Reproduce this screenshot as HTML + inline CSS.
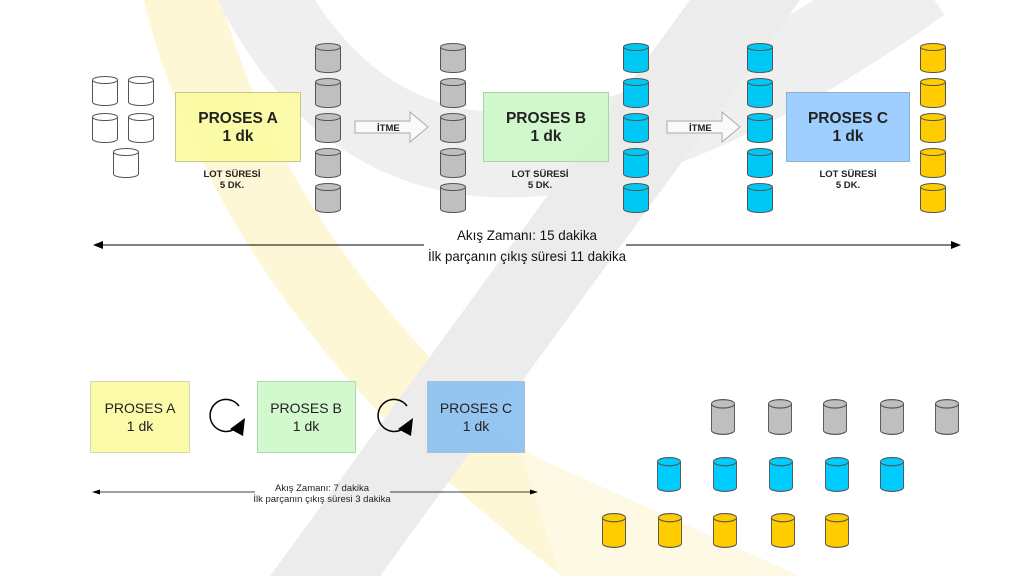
<!DOCTYPE html>
<html><head><meta charset="utf-8"><style>
html,body{margin:0;padding:0;background:#fff;}
svg{display:block;font-family:"Liberation Sans",Arial,sans-serif;}
</style></head><body>
<svg width="1024" height="576" viewBox="0 0 1024 576" xmlns="http://www.w3.org/2000/svg">
<defs>
<symbol id="cyl" viewBox="0 0 26 30" preserveAspectRatio="none" overflow="visible">
<path d="M0.5,4 L0.5,26 A12.5,3.5 0 0 0 25.5,26 L25.5,4" stroke="#555" stroke-width="1"/>
<ellipse cx="13" cy="4" rx="12.5" ry="3.5" stroke="#555" stroke-width="1"/>
</symbol>
</defs>
<!-- background bands -->
<path d="M180,-10 Q260,320 640,586" fill="none" stroke="#fdf7d6" stroke-width="75"/>
<path d="M520,450 L800,576 L560,576 Z" fill="#fdf9e4"/>
<path d="M255,-20 Q430,330 920,-20" fill="none" stroke="#efefef" stroke-width="85"/>
<polygon points="690,0 800,0 380,576 270,576" fill="#ececec"/>

<!-- top row -->
<g fill="#fff">
<use href="#cyl" x="92" y="76" width="26" height="30"/>
<use href="#cyl" x="128" y="76" width="26" height="30"/>
<use href="#cyl" x="92" y="113" width="26" height="30"/>
<use href="#cyl" x="128" y="113" width="26" height="30"/>
<use href="#cyl" x="113" y="148" width="26" height="30"/>
</g>
<g fill="#bfbfbf">
<use href="#cyl" x="315" y="43" width="26" height="30"/><use href="#cyl" x="315" y="78" width="26" height="30"/><use href="#cyl" x="315" y="113" width="26" height="30"/><use href="#cyl" x="315" y="148" width="26" height="30"/><use href="#cyl" x="315" y="183" width="26" height="30"/>
<use href="#cyl" x="440" y="43" width="26" height="30"/><use href="#cyl" x="440" y="78" width="26" height="30"/><use href="#cyl" x="440" y="113" width="26" height="30"/><use href="#cyl" x="440" y="148" width="26" height="30"/><use href="#cyl" x="440" y="183" width="26" height="30"/>
</g>
<g fill="#00c8f4">
<use href="#cyl" x="623" y="43" width="26" height="30"/><use href="#cyl" x="623" y="78" width="26" height="30"/><use href="#cyl" x="623" y="113" width="26" height="30"/><use href="#cyl" x="623" y="148" width="26" height="30"/><use href="#cyl" x="623" y="183" width="26" height="30"/>
<use href="#cyl" x="747" y="43" width="26" height="30"/><use href="#cyl" x="747" y="78" width="26" height="30"/><use href="#cyl" x="747" y="113" width="26" height="30"/><use href="#cyl" x="747" y="148" width="26" height="30"/><use href="#cyl" x="747" y="183" width="26" height="30"/>
</g>
<g fill="#ffcc00">
<use href="#cyl" x="920" y="43" width="26" height="30"/><use href="#cyl" x="920" y="78" width="26" height="30"/><use href="#cyl" x="920" y="113" width="26" height="30"/><use href="#cyl" x="920" y="148" width="26" height="30"/><use href="#cyl" x="920" y="183" width="26" height="30"/>
</g>

<g font-size="15.5" font-weight="bold" text-anchor="middle" fill="#222">
<rect x="175.5" y="92.5" width="125" height="69" fill="#fbfba0" fill-opacity="0.9" stroke="#c8c88a"/>
<text x="238" y="123">PROSES A</text>
<text x="238" y="141">1 dk</text>
<rect x="483.5" y="92.5" width="125" height="69" fill="#ccf8c8" fill-opacity="0.9" stroke="#aad4a8"/>
<text x="546" y="123">PROSES B</text>
<text x="546" y="141">1 dk</text>
<rect x="786.5" y="92.5" width="123" height="69" fill="#99ccff" fill-opacity="0.95" stroke="#8ab0d0"/>
<text x="848" y="123">PROSES C</text>
<text x="848" y="141">1 dk</text>
</g>

<g font-size="9.5" font-weight="bold" text-anchor="middle" fill="#222">
<text x="232" y="177">LOT SÜRESİ</text><text x="232" y="188">5 DK.</text>
<text x="540" y="177">LOT SÜRESİ</text><text x="540" y="188">5 DK.</text>
<text x="848" y="177">LOT SÜRESİ</text><text x="848" y="188">5 DK.</text>
</g>
<!-- ITME arrows -->
<g fill="#fafafa" stroke="#aaa">
<polygon points="355,121 410,121 410,112 428,127 410,142 410,133 355,133"/>
<polygon points="667,121 722,121 722,112 740,127 722,142 722,133 667,133"/>
</g>
<text x="377" y="131" font-size="9.5" font-weight="bold" fill="#222">İTME</text>
<text x="689" y="131" font-size="9.5" font-weight="bold" fill="#222">İTME</text>

<!-- long arrow -->
<line x1="100" y1="245" x2="424" y2="245" stroke="#000"/>
<line x1="626" y1="245" x2="953" y2="245" stroke="#000"/>
<polygon points="93,245 103,241 103,249" fill="#000"/>
<polygon points="961,245 951,241 951,249" fill="#000"/>
<text x="527" y="240" font-size="14" text-anchor="middle" fill="#111" textLength="140" lengthAdjust="spacingAndGlyphs">Akış Zamanı: 15 dakika</text>
<text x="527" y="261" font-size="14" text-anchor="middle" fill="#111" textLength="198" lengthAdjust="spacingAndGlyphs">İlk parçanın çıkış süresi 11 dakika</text>

<!-- bottom -->
<rect x="90.5" y="381.5" width="99" height="71" fill="#fbfba0" fill-opacity="0.9" stroke="#d8d8b0"/>
<text x="140" y="413" font-size="14" text-anchor="middle" fill="#222">PROSES A</text>
<text x="140" y="431" font-size="14" text-anchor="middle" fill="#222">1 dk</text>
<rect x="257.5" y="381.5" width="98" height="71" fill="#ccf8c8" fill-opacity="0.9" stroke="#b0d8b0"/>
<text x="306" y="413" font-size="14" text-anchor="middle" fill="#222">PROSES B</text>
<text x="306" y="431" font-size="14" text-anchor="middle" fill="#222">1 dk</text>
<rect x="427.5" y="381.5" width="97" height="71" fill="#8fc2f0" fill-opacity="0.95" stroke="#a8c0d8"/>
<text x="476" y="413" font-size="14" text-anchor="middle" fill="#222">PROSES C</text>
<text x="476" y="431" font-size="14" text-anchor="middle" fill="#222">1 dk</text>

<g fill="none" stroke="#000" stroke-width="1.5">
<path d="M239,406 A16,16 0 1 0 236,428"/>
<path d="M407,406 A16,16 0 1 0 404,428"/>
</g>
<polygon points="230,429 245,418 243,436" fill="#000"/>
<polygon points="398,429 413,418 411,436" fill="#000"/>

<line x1="97" y1="492" x2="255" y2="492" stroke="#000" stroke-width="0.8"/>
<line x1="390" y1="492" x2="532" y2="492" stroke="#000" stroke-width="0.8"/>
<polygon points="92,492 100,489.5 100,494.5" fill="#000"/>
<polygon points="538,492 530,489.5 530,494.5" fill="#000"/>
<text x="322" y="491" font-size="9.5" text-anchor="middle" fill="#222">Akış Zamanı: 7 dakika</text>
<text x="322" y="502" font-size="9.5" text-anchor="middle" fill="#222">İlk parçanın çıkış süresi 3 dakika</text>

<g fill="#bfbfbf">
<use href="#cyl" x="711" y="399" width="24" height="36"/><use href="#cyl" x="768" y="399" width="24" height="36"/><use href="#cyl" x="823" y="399" width="24" height="36"/><use href="#cyl" x="880" y="399" width="24" height="36"/><use href="#cyl" x="935" y="399" width="24" height="36"/>
</g>
<g fill="#00ccff">
<use href="#cyl" x="657" y="457" width="24" height="35"/><use href="#cyl" x="713" y="457" width="24" height="35"/><use href="#cyl" x="769" y="457" width="24" height="35"/><use href="#cyl" x="825" y="457" width="24" height="35"/><use href="#cyl" x="880" y="457" width="24" height="35"/>
</g>
<g fill="#ffcc00">
<use href="#cyl" x="602" y="513" width="24" height="35"/><use href="#cyl" x="658" y="513" width="24" height="35"/><use href="#cyl" x="713" y="513" width="24" height="35"/><use href="#cyl" x="771" y="513" width="24" height="35"/><use href="#cyl" x="825" y="513" width="24" height="35"/>
</g>
</svg>
</body></html>
